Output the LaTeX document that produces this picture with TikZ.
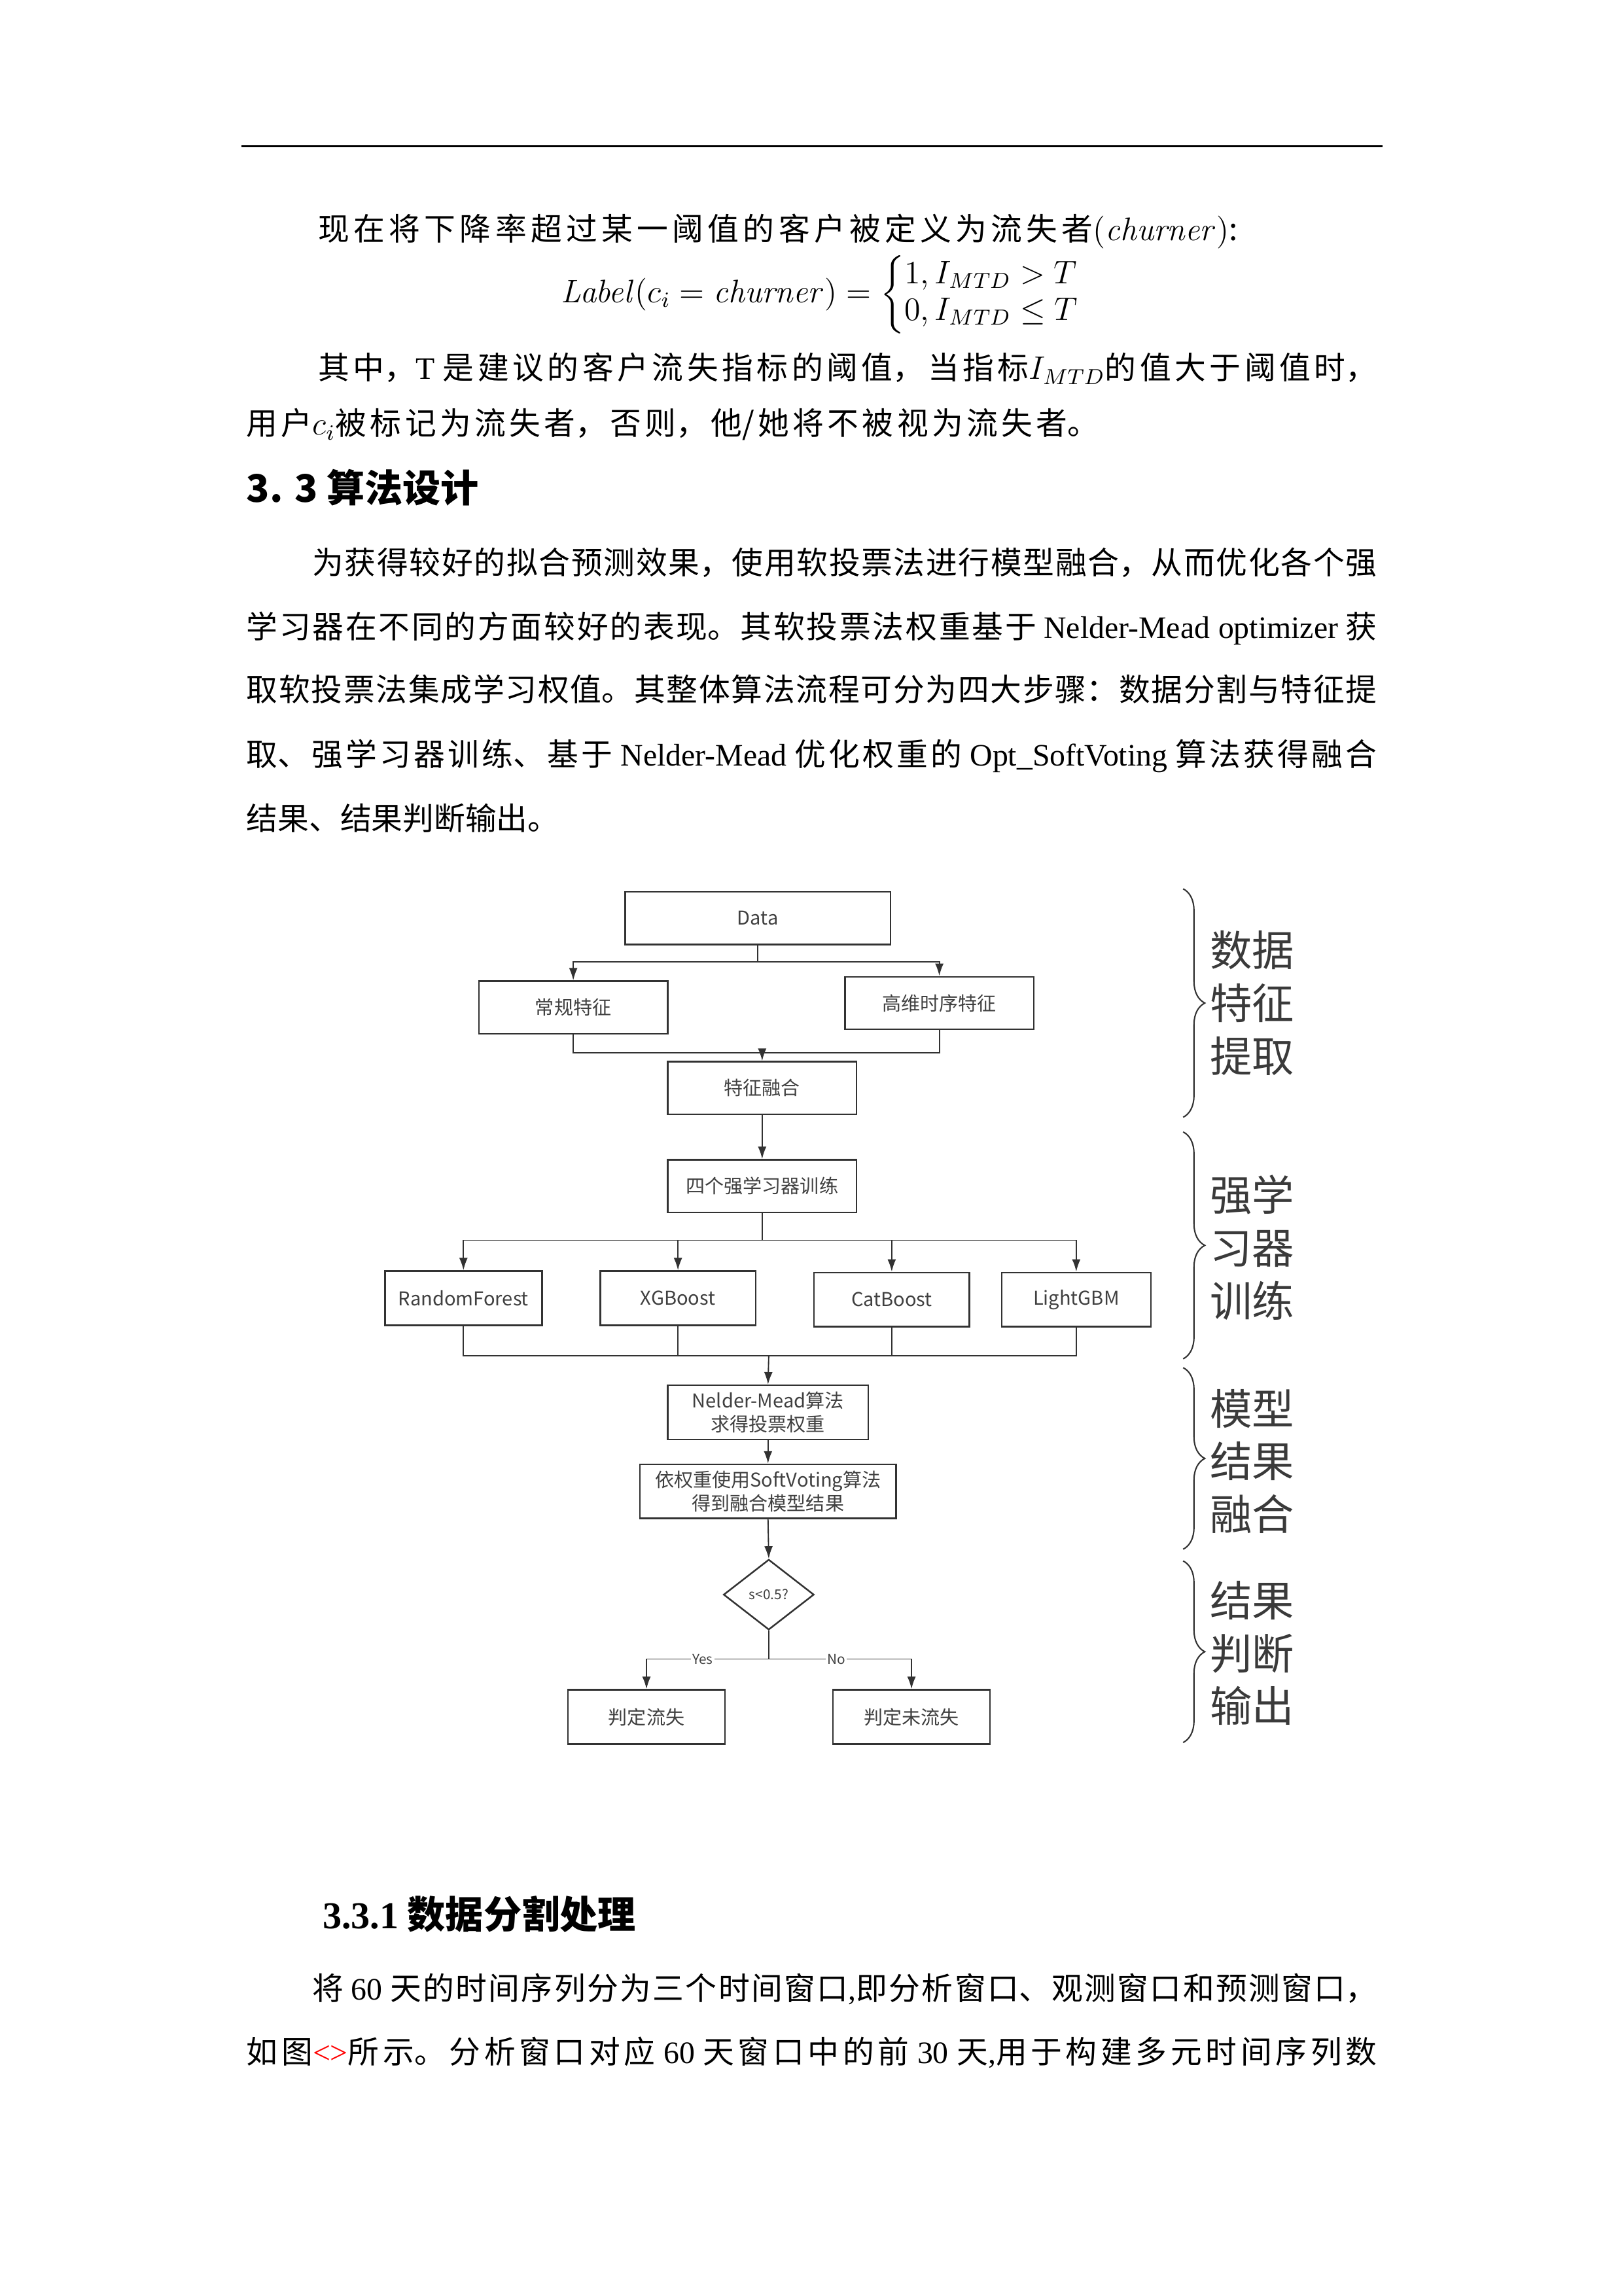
\documentclass[tikz,border=0pt]{standalone}
\usepackage{amsmath}
\usepackage[no-math]{fontspec}
\usepackage{tikz}
\usetikzlibrary{shapes.geometric, arrows.meta, positioning, calc, decorations.pathreplacing}
\setmainfont{Noto Sans CJK SC}
\newfontfamily\latfont{Liberation Serif}
\definecolor{mydark}{RGB}{50,50,50}
\definecolor{mytext}{RGB}{64,64,64}
\definecolor{mylabel}{RGB}{58,58,58}
\newdimen\pxu \pxu=0.18936mm
\XeTeXlinebreaklocale "zh"
\XeTeXlinebreakskip=0pt plus 4pt minus 0.4pt
\XeTeXlinebreakpenalty=10000
\newcommand{\lt}[1]{{\latfont #1}}
\newcommand{\bodyfont}{\fontsize{11.5}{14}\selectfont}
\newcommand{\jline}[2]{\parbox[b]{#1\pxu}{\tolerance=10000\hbadness=10000\parfillskip=0pt\relax #2}}
\tikzset{
  body/.style={anchor=base west, inner sep=0pt, font=\bodyfont},
  box/.style={rectangle, draw=mydark, line width=0.6pt, minimum height=6.8mm,
    inner sep=1pt, font=\fontsize{7}{8.5}\selectfont, text=mytext, align=center},
  decision/.style={diamond, draw=mydark, line width=0.6pt, aspect=1.3,
    minimum width=11.7mm, minimum height=9.1mm, inner sep=0pt,
    font=\fontsize{5}{6}\selectfont, text=mytext},
  arrow/.style={-{Latex[length=1.6mm,width=1.1mm]}, line width=0.45pt, color=mydark},
  line/.style={line width=0.45pt, color=mydark},
  yesno/.style={font=\fontsize{5}{6}\selectfont, fill=white, inner sep=0.6pt, text=mytext},
  stepbrace/.style={decorate, decoration={brace, amplitude=2.8mm}, line width=0.5pt, color=mydark},
  steplabel/.style={font=\fontsize{15.5}{19.4}\selectfont, text=mylabel, align=center}
}

\begin{document}
\begin{tikzpicture}[x=0.18936mm, y=-0.18936mm]
  \fill[white] (0,0) rectangle (1109,1568);
  \useasboundingbox (0,0) rectangle (1109,1568);
  % header rule
  \draw[line width=0.7pt] (165,100) -- (944,100);

  % text above
  \node[body] (t1) at (217,164) {\jline{628}{现在将下降率超过某一阈值的客户被定义为流失者$(\mathit{churner})$:}};
  \node[anchor=west, inner sep=0pt, font=\fontsize{11.5}{13.5}\selectfont] (eq) at (383,201)
    {$\mathit{Label}(c_i=\mathit{churner})=\left\{\begin{array}{@{}l@{}}1,I_{MTD}>T\\0,I_{MTD}\le T\end{array}\right.$};
  \node[body] (t2) at (217,259) {\jline{723}{其中，\lt{T} 是建议的客户流失指标的阈值，当指标$I_{MTD}$的值大于阈值时，}};
  \node[body] (t3) at (168,297) {\jline{582}{用户$c_i$被标记为流失者，否则，他/她将不被视为流失者。}};
  \node[body, font=\fontsize{14}{16}\selectfont\bfseries] (h1) at (168,343) {3. 3 算法设计};
  \node[body] (p1) at (213,392) {\jline{727}{为获得较好的拟合预测效果，使用软投票法进行模型融合，从而优化各个强}};
  \node[body] (p2) at (168,436) {\jline{772}{学习器在不同的方面较好的表现。其软投票法权重基于 \lt{Nelder-Mead optimizer} 获}};
  \node[body] (p3) at (168,479) {\jline{772}{取软投票法集成学习权值。其整体算法流程可分为四大步骤：数据分割与特征提}};
  \node[body] (p4) at (168,523) {\jline{772}{取、强学习器训练、基于 \lt{Nelder-Mead} 优化权重的 \lt{Opt\_SoftVoting} 算法获得融合}};
  \node[body] (p5) at (168,567) {结果、结果判断输出。};

  % flow chart
  \node[box, minimum width=34.3mm] (data) at (517.5,627) {Data};
  \node[box, minimum width=24.4mm] (conv) at (391.5,688) {常规特征};
  \node[box, minimum width=24.4mm] (hdts) at (641.5,685) {高维时序特征};
  \node[box, minimum width=24.4mm] (fuse) at (520.5,743) {特征融合};
  \node[box, minimum width=24.4mm] (train) at (520.5,810) {四个强学习器训练};
  \node[box, minimum width=20.3mm, minimum height=7mm] (rf) at (316.5,886.5) {RandomForest};
  \node[box, minimum width=20.1mm, minimum height=7mm] (xgb) at (463,886.5) {XGBoost};
  \node[box, minimum width=20.1mm, minimum height=7mm] (cat) at (609,887.5) {CatBoost};
  \node[box, minimum width=19.3mm, minimum height=7mm] (lgbm) at (735,887.5) {LightGBM};
  \node[box, minimum width=25.9mm, minimum height=7mm] (nm) at (524.5,964.5) {Nelder-Mead算法\\求得投票权重};
  \node[box, minimum width=33.1mm, minimum height=7mm] (sv) at (524.5,1018.5) {依权重使用SoftVoting算法\\得到融合模型结果};
  \node[decision] (dec) at (525,1089) {s<0.5?};
  \node[box, minimum width=20.3mm, minimum height=7mm] (churn) at (441.5,1172.5) {判定流失};
  \node[box, minimum width=20.3mm, minimum height=7mm] (stay) at (622.5,1172.5) {判定未流失};

  \coordinate (s1) at (517.5,657);
  \coordinate (m1) at (520.5,719);
  \coordinate (s2) at (520.5,847);
  \coordinate (m2) at (525,926);
  \coordinate (s3) at (525,1133);

  \draw[line] (data.south) -- (s1);
  \draw[arrow] (s1) -| (conv.north);
  \draw[arrow] (s1) -| (hdts.north);
  \draw[line] (conv.south) |- (m1);
  \draw[line] (hdts.south) |- (m1);
  \draw[arrow] (m1) -- (fuse.north);
  \draw[arrow] (fuse.south) -- (train.north);
  \draw[line] (train.south) -- (s2);
  \foreach \m in {rf, xgb, cat, lgbm}
    \draw[arrow] (s2) -| (\m.north);
  \foreach \m in {rf, xgb, cat, lgbm}
    \draw[line] (\m.south) |- (m2);
  \draw[arrow] (m2) -- (nm.north);
  \draw[arrow] (nm.south) -- (sv.north);
  \draw[arrow] (sv.south) -- (dec.north);
  \draw[line] (dec.south) -- (s3);
  \draw[arrow] (s3) -| node[yesno, pos=0.27] {Yes} (churn.north);
  \draw[arrow] (s3) -| node[yesno, pos=0.236] {No} (stay.north);

  % step braces
  \draw[stepbrace] (808,607) -- (808,763);
  \draw[stepbrace] (808,773) -- (808,928);
  \draw[stepbrace] (808,934) -- (808,1058);
  \draw[stepbrace] (808,1066) -- (808,1190);
  \node[steplabel] (st1) at (855,685) {数据\\特征\\提取};
  \node[steplabel] (st2) at (855,852) {强学\\习器\\训练};
  \node[steplabel] (st3) at (855,998) {模型\\结果\\融合};
  \node[steplabel] (st4) at (855,1129) {结果\\判断\\输出};

  % text below
  \node[body, font=\fontsize{14}{16}\selectfont\bfseries] (h2) at (220,1317) {\lt{3.3.1} 数据分割处理};
  \node[body] (q1) at (213,1366) {\jline{727}{将 \lt{60} 天的时间序列分为三个时间窗口\lt{,}即分析窗口、观测窗口和预测窗口，}};
  \node[body] (q2) at (168,1409) {\jline{772}{如图\textcolor{red}{\lt{<>}}所示。分析窗口对应 \lt{60} 天窗口中的前 \lt{30} 天\lt{,}用于构建多元时间序列数}};
\end{tikzpicture}
\end{document}
